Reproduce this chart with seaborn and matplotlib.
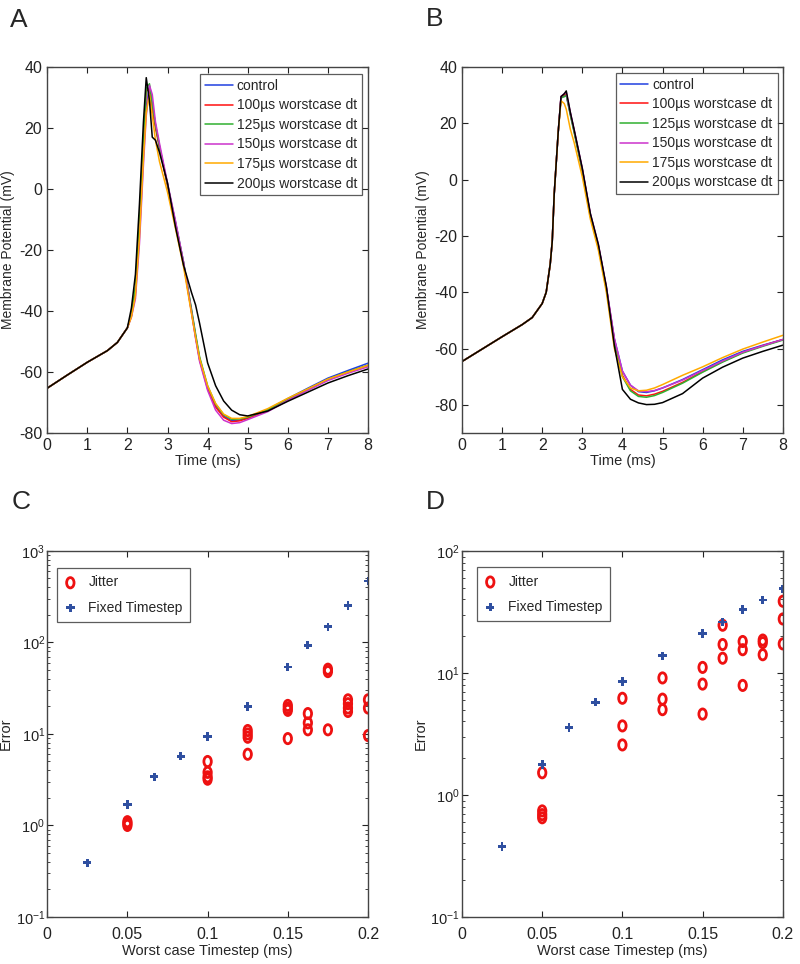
import numpy as np
import pandas as pd
import seaborn as sns
import matplotlib.pyplot as plt
from matplotlib.path import Path
from matplotlib.ticker import LogLocator, NullFormatter

# ---- panel A/B: membrane potential traces ----
trace_names = ['control', '100\u00b5s worstcase dt', '125\u00b5s worstcase dt',
               '150\u00b5s worstcase dt', '175\u00b5s worstcase dt', '200\u00b5s worstcase dt']
trace_colors = ['#2040e0', '#ff1010', '#30b030', '#cc33cc', '#ffaa00', '#000000']

time_a = [0, 0.5, 1, 1.5, 1.75, 2, 2.1, 2.2, 2.3, 2.4, 2.47, 2.55, 2.62, 2.7, 2.8, 3.0, 3.2,
          3.4, 3.6, 3.7, 3.8, 4.0, 4.2, 4.4, 4.6, 4.8, 5.0, 5.5, 6, 6.5, 7, 7.5, 8]
a_control = [-65.3, -61.0, -56.8, -53.0, -50.3, -45.5, -41.5, -34, -14, 12, 27, 33.5, 28, 21, 14, 1.5, -11,
             -24, -40, -48, -55.5, -65, -71, -74.5, -76, -75.8, -75, -72.3, -68.7, -65.3, -62, -59.5, -57.1]
a_100 = [-65.3, -61.0, -56.8, -53.0, -50.3, -45.5, -41.5, -33, -12, 15, 32, 33, 26, 20, 13.5, 1, -11.5,
         -24.5, -40.5, -48.5, -56, -65.5, -71.5, -74.8, -76.3, -76, -75.2, -72.6, -69, -65.7, -62.5, -60, -57.8]
a_125 = [-65.3, -61.0, -56.8, -53.0, -50.3, -45.5, -41, -32, -11, 16, 33, 34.5, 28, 21, 14, 1.5, -11,
         -24, -39.5, -47.5, -55, -64.5, -70.5, -74, -75.5, -75.4, -74.8, -72.4, -68.9, -65.6, -62.4, -59.9, -57.8]
a_150 = [-65.3, -61.0, -56.8, -53.0, -50.3, -45.5, -42, -36, -18, 8, 24, 34, 31, 22, 15, 2, -10.5,
         -24, -40.5, -49, -56.5, -66, -72.5, -75.8, -76.9, -76.6, -75.6, -73, -69.3, -66, -62.8, -60.4, -58.3]
a_175 = [-65.3, -61.0, -56.8, -53.0, -50.3, -45.5, -42, -35, -16, 10, 25, 31, 24, 16, 9, -1, -13,
         -25.5, -41, -48.5, -55.5, -64.5, -70.3, -73.8, -75.2, -75.2, -74.6, -72, -68.6, -65.5, -62.3, -60, -57.8]
a_200 = [-65.3, -61.0, -56.8, -53.0, -50.3, -45.5, -39, -28, -5, 22, 36.5, 29, 17, 16, 12, 2, -12.5,
         -25, -34, -38, -44, -57, -64.5, -69.5, -72.5, -74, -74.4, -72.8, -69.6, -66.6, -63.6, -61.2, -59]

time_b = [0, 0.5, 1, 1.5, 1.75, 2, 2.1, 2.2, 2.25, 2.3, 2.4, 2.47, 2.55, 2.6, 2.7, 2.8, 3.0, 3.2,
          3.4, 3.6, 3.8, 4.0, 4.2, 4.4, 4.6, 4.8, 5.0, 5.5, 6, 6.5, 7, 7.5, 8]
b_control = [-64.6, -60.2, -55.8, -51.5, -49, -44, -40, -30, -22, -5, 17, 29.5, 29.5, 30, 23.5, 17, 3.5, -12.5,
             -23.5, -38.5, -56.5, -68, -73, -75.3, -75.6, -75, -74, -71, -67.5, -64, -61, -58.8, -56.8]
b_100 = [-64.6, -60.2, -55.8, -51.5, -49, -44, -40, -30, -22, -5, 17, 29.5, 30, 30.5, 23.5, 17, 3.5, -12.5,
         -23.5, -38.5, -57, -69.5, -74.5, -76.5, -76.8, -76.2, -75.2, -72, -68.2, -64.6, -61.4, -59, -56.8]
b_125 = [-64.6, -60.2, -55.8, -51.5, -49, -44, -40, -30, -22, -5, 17, 29, 29.5, 30, 23, 16.5, 3, -13,
         -24, -39, -57.5, -70, -75, -77, -77.3, -76.7, -75.6, -72.3, -68.4, -64.8, -61.6, -59.2, -57]
b_150 = [-64.6, -60.2, -55.8, -51.5, -49, -44, -40, -30, -22, -5, 17, 29.5, 30.5, 31, 24, 17.5, 4, -12,
         -23, -38, -56.5, -68, -73, -75, -75.3, -74.9, -74, -71.2, -67.8, -64.4, -61.3, -59, -56.8]
b_175 = [-64.6, -60.2, -55.8, -51.5, -49, -44, -40, -30, -22, -5, 17, 28, 27, 25, 18, 13, 1, -14,
         -25, -40, -60, -70, -74, -75, -74.8, -74, -72.8, -69.5, -66.5, -63.2, -60.2, -57.7, -55.3]
b_200 = [-64.6, -60.2, -55.8, -51.5, -49, -44, -40, -30, -22, -5, 17, 29.5, 30.5, 31.5, 24, 17.5, 4, -12,
         -23, -38, -59, -74.5, -78, -79.3, -79.9, -79.8, -79.2, -76, -70.5, -66.6, -63.4, -61, -58.8]

# ---- panel C/D: error vs worst case timestep ----
fixed_dt = [0.025, 0.05, 0.0667, 0.0833, 0.1, 0.125, 0.15, 0.1625, 0.175, 0.1875, 0.2]
c_fixed_err = [0.39, 1.7, 3.4, 5.7, 9.4, 20, 54, 93, 148, 253, 470]
d_fixed_err = [0.377, 1.78, 3.56, 5.75, 8.5, 13.8, 21, 26.2, 33.2, 39.6, 49]

c_jitter_dt = [0.05, 0.05, 0.05, 0.1, 0.1, 0.1, 0.1, 0.125, 0.125, 0.125, 0.125,
               0.15, 0.15, 0.15, 0.15, 0.1625, 0.1625, 0.1625, 0.175, 0.175, 0.175,
               0.1875, 0.1875, 0.1875, 0.1875, 0.2, 0.2, 0.2]
c_jitter_err = [1.1, 1.05, 1.0, 5.0, 3.8, 3.4, 3.2, 10.9, 10.0, 9.2, 6.0,
                20.5, 19.1, 18.1, 8.9, 16.7, 13.2, 11.1, 51, 48, 11.1,
                23.6, 21.4, 19.2, 17.6, 23.6, 19.2, 9.6]
d_jitter_dt = [0.05, 0.05, 0.05, 0.05, 0.1, 0.1, 0.1, 0.125, 0.125, 0.125,
               0.15, 0.15, 0.15, 0.1625, 0.1625, 0.1625, 0.175, 0.175, 0.175,
               0.1875, 0.1875, 0.1875, 0.2, 0.2, 0.2]
d_jitter_err = [1.52, 0.74, 0.69, 0.65, 6.2, 3.68, 2.57, 9.1, 6.1, 5.0,
                11.1, 8.1, 4.6, 24.6, 17.1, 13.2, 18.1, 15.5, 7.9,
                18.6, 17.7, 14.1, 38.7, 27.7, 17.3]

sns.set_style('ticks')
plt.rcParams['font.family'] = ['Liberation Sans', 'DejaVu Sans']
plt.rcParams['font.size'] = 11
plt.rcParams['axes.unicode_minus'] = False
plt.rcParams['xtick.direction'] = 'in'
plt.rcParams['ytick.direction'] = 'in'
plt.rcParams['xtick.top'] = True
plt.rcParams['ytick.right'] = True
plt.rcParams['axes.edgecolor'] = '#444444'

fig = plt.figure(figsize=(8, 9.64), dpi=100)
ax_a = fig.add_axes([0.059, 0.5508, 0.401, 0.3797])
ax_b = fig.add_axes([0.5775, 0.5508, 0.401, 0.3797])
ax_c = fig.add_axes([0.059, 0.0488, 0.401, 0.3797])
ax_d = fig.add_axes([0.5775, 0.0488, 0.401, 0.3797])


def trace_panel(ax, t, curves, ylim, yticks, anchor):
    rows = []
    for name, vals in zip(trace_names, curves):
        rows.append(pd.DataFrame({'time': t, 'mv': vals, 'trace': name}))
    df = pd.concat(rows)
    sns.lineplot(data=df, x='time', y='mv', hue='trace', palette=trace_colors,
                 estimator=None, sort=False, linewidth=1.1, legend=False, ax=ax)
    ax.set_xlim(0, 8)
    ax.set_ylim(*ylim)
    ax.set_xticks(range(0, 9))
    ax.set_yticks(yticks)
    ax.set_xlabel('Time (ms)', labelpad=1, fontsize=10.5)
    ax.set_ylabel('Membrane Potential (mV)', fontsize=10)
    ax.yaxis.set_label_coords(-0.1, 0.5)
    leg = ax.legend(ax.lines, trace_names, loc='upper right', bbox_to_anchor=anchor,
                    fancybox=False, borderaxespad=0, handlelength=2.0, handletextpad=0.3,
                    labelspacing=0.4, fontsize=10, borderpad=0.35)
    leg.get_frame().set_edgecolor('#333333')
    leg.get_frame().set_linewidth(0.9)


trace_panel(ax_a, time_a, [a_control, a_100, a_125, a_150, a_175, a_200],
            (-80, 40), range(-80, 41, 20), (0.981, 0.981))
trace_panel(ax_b, time_b, [b_control, b_100, b_125, b_150, b_175, b_200],
            (-90, 40), range(-80, 41, 20), (0.984, 0.984))

# tall oval marker like the reference "o"
circ = Path.unit_circle()
oval = Path(circ.vertices * np.array([0.72, 1.0]), circ.codes)


def error_panel(ax, jx, jy, fy, ylim, anchor):
    sns.scatterplot(x=jx, y=jy, marker=oval, s=55, color='red', linewidth=2,
                    ax=ax, label='Jitter')
    coll = ax.collections[-1]
    coll.set_facecolor('none')
    coll.set_edgecolor('#ee1111')
    sns.scatterplot(x=fixed_dt, y=fy, marker='P', s=36, color='#2f4fa0',
                    edgecolor='none', ax=ax, label='Fixed Timestep')
    ax.set_yscale('log')
    ax.set_xlim(0, 0.2)
    ax.set_ylim(*ylim)
    ax.set_xticks([0, 0.05, 0.1, 0.15, 0.2])
    ax.set_xticklabels(['0', '0.05', '0.1', '0.15', '0.2'])
    ax.yaxis.set_major_locator(LogLocator(base=10, numticks=10))
    ax.yaxis.set_minor_locator(LogLocator(base=10, subs=np.arange(2, 10), numticks=20))
    ax.yaxis.set_minor_formatter(NullFormatter())
    ax.tick_params(axis='y', which='minor', length=2.5, direction='in', right=True)
    ax.set_xlabel('Worst case Timestep (ms)', labelpad=2, fontsize=10.5)
    ax.set_ylabel('Error', fontsize=10.5)
    ax.yaxis.set_label_coords(-0.108, 0.5)
    h, l = ax.get_legend_handles_labels()
    h[0].set_facecolor('none')
    h[0].set_edgecolor('#ee1111')
    leg = ax.legend(h, l, loc='upper left', bbox_to_anchor=anchor, fancybox=False,
                    fontsize=10, borderaxespad=0, handletextpad=0.9, handlelength=0.8,
                    labelspacing=0.8, borderpad=0.55)
    leg.get_frame().set_edgecolor('#333333')
    leg.get_frame().set_linewidth(0.9)


error_panel(ax_c, c_jitter_dt, c_jitter_err, c_fixed_err, (0.1, 1000), (0.031, 0.954))
error_panel(ax_d, d_jitter_dt, d_jitter_err, d_fixed_err, (0.1, 100), (0.047, 0.956))

for ax in (ax_a, ax_b, ax_c, ax_d):
    ax.tick_params(which='major', length=4, labelsize=11.5, colors='#222222')
    for s in ax.spines.values():
        s.set_linewidth(1.0)

# log tick labels a bit smaller and tighter so they clear the "Error" label
for ax in (ax_c, ax_d):
    ax.tick_params(axis='y', which='major', labelsize=10.5, pad=1.5)
    ax.tick_params(axis='x', which='major', pad=7)

fig.text(0.012, 0.979, 'A', fontsize=19, va='center')
fig.text(0.532, 0.980, 'B', fontsize=19, va='center')
fig.text(0.015, 0.479, 'C', fontsize=19, va='center')
fig.text(0.532, 0.479, 'D', fontsize=19, va='center')

fig.savefig('out.png', dpi=100)
